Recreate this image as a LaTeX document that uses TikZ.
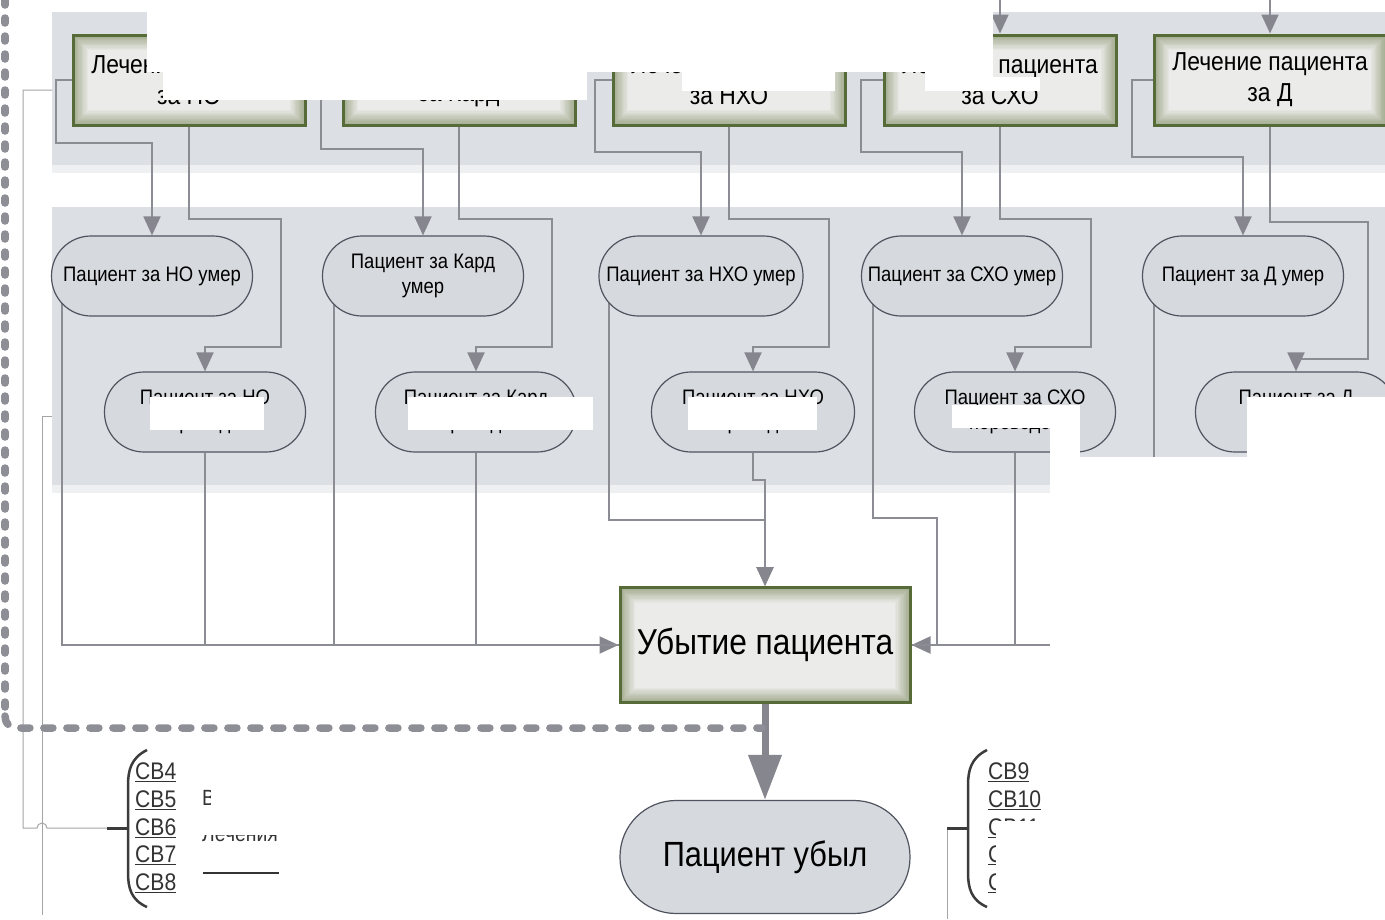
\documentclass[tikz,border=0pt]{standalone}
\usepackage{fontspec}
\setmainfont[FakeStretch=0.88]{Liberation Sans}
\usetikzlibrary{arrows.meta}
\pgfdeclarelayer{bands}
\pgfdeclarelayer{lines}
\pgfdeclarelayer{cover}
\pgfsetlayers{bands,lines,main,cover}
\definecolor{band}{HTML}{DCDFE3}
\definecolor{bandshadow}{HTML}{EFF0F2}
\definecolor{pillfill}{HTML}{D6D9DE}
\definecolor{pillborder}{HTML}{50545F}
\definecolor{conncol}{HTML}{8C8C94}
\definecolor{arrcol}{HTML}{86868F}
\definecolor{boxedge}{HTML}{566B38}
\definecolor{boxin}{HTML}{EBEBE9}
\definecolor{boxglow}{HTML}{A3AC8F}
\definecolor{dotcol}{HTML}{8E8E96}
\definecolor{thincol}{HTML}{A5A5A5}
\definecolor{brcol}{HTML}{3C3C3C}
\definecolor{cbcol}{HTML}{333333}
\begin{document}
\begin{tikzpicture}[x=1pt,y=-1pt,
  conn/.style={draw=conncol,line width=2pt},
  arr/.style={-{Triangle[width=17pt,length=19pt,fill=arrcol,color=arrcol]}},
  gbox/.style={rectangle,draw=boxedge,line width=3pt,minimum width=232pt,minimum height=90pt,
    align=center,inner sep=0pt,font=\fontsize{26}{31}\selectfont,
    path picture={\foreach \k in {0,...,12}{\pgfmathtruncatemacro\p{\k*100/12}
      \fill[boxin!\p!boxglow] ([shift={(\k*1.25pt,\k*1.25pt)}]path picture bounding box.south west)
        rectangle ([shift={(-\k*1.25pt,-\k*1.25pt)}]path picture bounding box.north east);}}},
  pill/.style={rectangle,rounded corners=39.5pt,draw=pillborder,line width=1.2pt,fill=pillfill,
    minimum width=201pt,minimum height=80pt,align=center,inner sep=0pt,font=\fontsize{21}{25}\selectfont},
  thinl/.style={draw=thincol,line width=1pt},
  tick/.style={draw=brcol,line width=3pt},
  bracket/.style={draw=brcol,line width=2.5pt},
  cbtext/.style={anchor=west,inner sep=0pt,text=cbcol,font=\fontsize{24}{28}\selectfont},
  midtext/.style={anchor=west,inner sep=0pt,text=black!80,font=\fontsize{22}{26}\selectfont},
  wcover/.style={fill=white},
  thickarr/.style={draw=arrcol,line width=7pt,-{Triangle[width=32pt,length=45pt,fill=arrcol,color=arrcol]}}
]
\useasboundingbox (0,0) rectangle (1385,919);

\begin{pgfonlayer}{bands}
\fill[white] (0,0) rectangle (1385,919);
\fill[bandshadow] (52,165) rectangle (1385,173);
\fill[band] (52,12) rectangle (1385,165);
\fill[bandshadow] (52,485) rectangle (1050,493);
\fill[band] (52,207) rectangle (1385,485);
\end{pgfonlayer}

% treatment boxes
\node[gbox] (b1) at (189,80) {Лечение пациента\\за НО};
\node[gbox] (b2) at (459,80) {Лечение пациента\\за Кард};
\node[gbox] (b3) at (729,80) {Лечение пациента\\за НХО};
\node[gbox] (b4) at (1000,80) {Лечение пациента\\за СХО};
\node[gbox] (b5) at (1270,80) {Лечение пациента\\за Д};

% died
\node[pill] (d1) at (152,276) {Пациент за НО умер};
\node[pill] (d2) at (423,276) {Пациент за Кард\\умер};
\node[pill,minimum width=204pt] (d3) at (701,276) {Пациент за НХО умер};
\node[pill] (d4) at (962,276) {Пациент за СХО умер};
\node[pill] (d5) at (1243,276) {Пациент за Д умер};

% transferred
\node[pill] (p1) at (205,412) {Пациент за НО\\переведен};
\node[pill] (p2) at (476,412) {Пациент за Кард\\переведен};
\node[pill,minimum width=203pt] (p3) at (753,412) {Пациент за НХО\\переведен};
\node[pill] (p4) at (1015,412) {Пациент за СХО\\переведен};
\node[pill] (p5) at (1296,412) {Пациент за Д\\переведен};

% exit
\node[gbox,minimum width=290pt,minimum height=115pt,font=\fontsize{36}{42}\selectfont] (ub) at (765,645) {Убытие пациента};
\node[pill,minimum width=290pt,minimum height=113pt,rounded corners=56pt,font=\fontsize{35}{41}\selectfont] (pu) at (765,857) {Пациент убыл};

\coordinate (t4) at (1000,0);
\coordinate (t5) at (1270,0);

\begin{pgfonlayer}{lines}
\draw[conn,arr] (t4) -- (b4.north);
\draw[conn,arr] (t5) -- (b5.north);
% box -> died
\draw[conn,arr] (b1.west) -- ++(-16,0) -- ++(0,63) -| (d1.north);
\draw[conn,arr] (b2.west) -- ++(-21,0) -- ++(0,69) -| (d2.north);
\draw[conn,arr] (b3.west) -- ++(-17,0) -- ++(0,72) -| (d3.north);
\draw[conn,arr] (b4.west) -- ++(-22,0) -- ++(0,72) -| (d4.north);
\draw[conn,arr] (b5.west) -- ++(-21,0) -- ++(0,77) -| (d5.north);
% box -> transferred
\draw[conn,arr] (b1.south) -- ++(0,92) -- ++(92,0) -- ++(0,128) -| (p1.north);
\draw[conn,arr] (b2.south) -- ++(0,92) -- ++(93,0) -- ++(0,128) -| (p2.north);
\draw[conn,arr] (b3.south) -- ++(0,92) -- ++(100,0) -- ++(0,128) -| (p3.north);
\draw[conn,arr] (b4.south) -- ++(0,92) -- ++(91,0) -- ++(0,128) -| (p4.north);
\draw[conn,arr] (b5.south) -- ++(0,95) -- ++(98,0) -- ++(0,137) -| (p5.north);
% to exit
\draw[conn,arr] ([xshift=11pt]d1.west) |- (ub.west);
\draw[conn] (p1.south) |- (ub.west);
\draw[conn] ([xshift=12pt]d2.west) |- (ub.west);
\draw[conn] (p2.south) |- (ub.west);
\draw[conn,arr] ([xshift=11pt]d3.west) -- ++(0,244) -| (ub.north);
\draw[conn,arr] (p3.south) -- ++(0,27) -| (ub.north);
\draw[conn,arr] ([xshift=12pt]d4.west) -- ++(0,242) -- ++(64,0) |- (ub.east);
\draw[conn] (p4.south) |- (ub.east);
\draw[conn] ([xshift=12pt]d5.west) |- (ub.east);
\draw[conn] (p5.south) |- (ub.east);
\draw[thickarr] (ub.south) -- (pu.north);

% thin lines
\coordinate (la) at (52,90);
\coordinate (lt) at (107,828);
\coordinate (lc) at (52,416);
\coordinate (le) at (42,915);
\coordinate (rt) at (947,828);
\coordinate (re) at (947,919);
\draw[thinl] (la) -- (23,90) -- (23,828) -- (37,828) arc[start angle=180,end angle=0,radius=5pt] -- (lt);
\draw[thinl] (lc) -- (42,416) -- (le);
\draw[thinl] (rt) -- (re);
\end{pgfonlayer}

% dotted boundary
\draw[draw=dotcol,line width=7.5pt,line cap=round,dash pattern=on 5pt off 13pt] (5,0) -- (5,712);
\draw[draw=dotcol,line width=7.5pt,line cap=round,dash pattern=on 9pt off 14pt] (5,716) .. controls (6,726) and (10,728) .. (20,728) -- (762,728);

% brackets
\draw[tick] (lt) -- (128,828);
\draw[bracket] (147,750) .. controls (131,758) and (128,770) .. (128,786) -- (128,872) .. controls (128,888) and (131,900) .. (147,907);
\draw[tick] (rt) -- (968,828);
\draw[bracket] (987,750) .. controls (971,758) and (968,770) .. (968,786) -- (968,872) .. controls (968,888) and (971,900) .. (987,907);

\node[cbtext] (cb4) at (135,772) {\underline{CB4}};
\node[cbtext] (cb5) at (135,800) {\underline{CB5}};
\node[cbtext] (cb6) at (135,828) {\underline{CB6}};
\node[cbtext] (cb7) at (135,855) {\underline{CB7}};
\node[cbtext] (cb8) at (135,883) {\underline{CB8}};
\node[cbtext] (cb9) at (988,772) {\underline{CB9}};
\node[cbtext] (cb10) at (988,800) {\underline{CB10}};
\node[cbtext] (cb11) at (988,828) {\underline{CB11}};
\node[cbtext] (cb12) at (988,855) {\underline{CB12}};
\node[cbtext] (cb13) at (988,883) {\underline{CB13}};

\node[midtext] (m1) at (202,800) {Возврат на};
\node[midtext] (m2) at (202,834) {Лечения};
\draw[draw=black!80,line width=1.5pt] (203,873) -- (279,873);

% white cover patches
\begin{pgfonlayer}{cover}
\fill[wcover] (147,0) rectangle (993,72);
\fill[wcover] (163,0) rectangle (587,100);
\fill[wcover] (682,0) rectangle (835,91);
\fill[wcover] (925,0) rectangle (993,91);
\fill[wcover] (993,77) rectangle (1040,91);
\fill[wcover] (150,397) rectangle (264,430);
\fill[wcover] (408,397) rectangle (593,430);
\fill[wcover] (688,397) rectangle (817,430);
\fill[wcover] (952,405) rectangle (1080,428);
\fill[wcover] (1050,428) rectangle (1080,457);
\fill[wcover] (1050,457) rectangle (1385,919);
\fill[wcover] (1247,397) rectangle (1385,457);
\fill[wcover] (211,783) rectangle (460,812);
\fill[wcover] (198,812) rectangle (300,835);
\fill[wcover] (996,821) rectangle (1050,919);
\end{pgfonlayer}
\end{tikzpicture}
\end{document}
